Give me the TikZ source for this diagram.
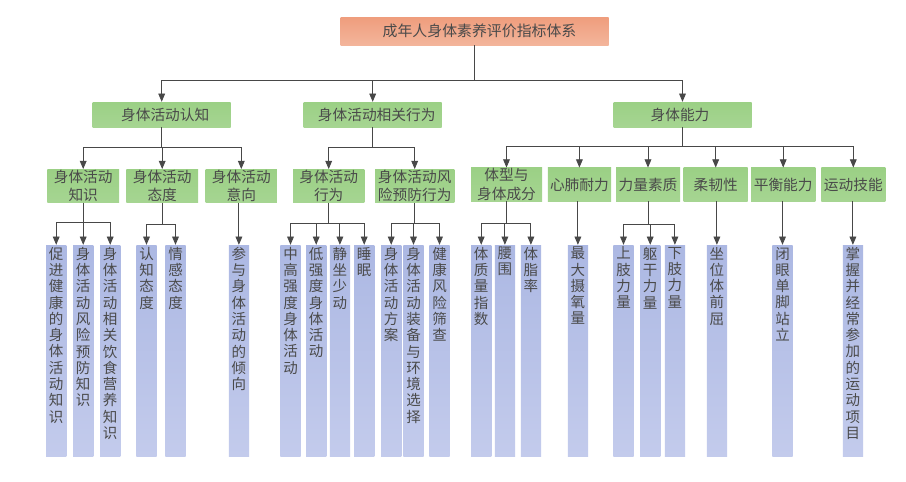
\documentclass[tikz,border=0pt]{standalone}
\usepackage{fontspec}
\setmainfont{Noto Sans CJK SC}
\XeTeXlinebreaklocale "zh"
\XeTeXlinebreakskip=0pt plus 1pt
\usepackage{tikz}
\usetikzlibrary{arrows}

\definecolor{inkgray}{HTML}{4A4A4A}
\definecolor{linegray}{HTML}{484848}
\definecolor{roottop}{HTML}{EF9D7D}
\definecolor{rootlow}{HTML}{F3B59B}
\definecolor{greentop}{HTML}{9BD085}
\definecolor{greenlow}{HTML}{A6D592}
\definecolor{bartop}{HTML}{ACB8E3}
\definecolor{barlow}{HTML}{C3CBEC}
\newcommand{\stack}[1]{\parbox[t][207pt][t]{15pt}{\centering\fontsize{14.5}{16.3}\selectfont #1}}

\begin{document}
\begin{tikzpicture}[
      x=1pt, y=-1pt,
      >=triangle 45,
      every node/.style={text=inkgray, inner sep=0pt},
      rootbox/.style={top color=roottop, bottom color=rootlow, font=\fontsize{14.9}{18}\selectfont, minimum width=268pt, minimum height=28pt},
      main node/.style={top color=greentop, bottom color=greenlow, font=\fontsize{14.7}{18}\selectfont, minimum width=138pt, minimum height=25pt},
      sub node/.style={main node, align=center, font=\fontsize{14.7}{18.5}\selectfont, minimum height=33.5pt},
      leaf/.style={top color=bartop, bottom color=barlow, minimum width=20.3pt, inner xsep=2.5pt, inner ysep=2pt},
      link/.style={draw=linegray, line width=0.9pt},
      drop/.style={link, ->}
    ]
    \useasboundingbox (0,0) rectangle (906,482);

    % Top of the tree
    \node (root) [rootbox] at (474.5,31) {\hspace*{10pt}成年人身体素养评价指标体系};
    \node (cognition) [main node] at (161.7,114.5) {\hspace*{7pt}身体活动认知};
    \node (behaviour) [main node] at (372.7,114.5) {\hspace*{8pt}身体活动相关行为};
    \node (ability) [main node] at (682.5,114.5) {身体能力\hspace*{5pt}};

    % Second row
    \node (knowledge) [sub node, minimum width=71.7pt] at (83.2,186) {身体活动\\知识};
    \node (attitude) [sub node, minimum width=71.7pt, node distance=79pt, right of=knowledge] {身体活动\\态度};
    \node (intention) [sub node, minimum width=71.3pt, node distance=79.1pt, right of=attitude] {身体活动\\意向};
    \node (conduct) [sub node, minimum width=71.3pt, node distance=87.4pt, right of=intention] {身体活动\\行为};
    \node (prevention) [sub node, minimum width=79.3pt, node distance=86pt, right of=conduct] {身体活动风\\险预防行为};
    \node (bodyshape) [sub node, minimum width=71pt] at (506.5,184.5) {体型与\\身体成分};
    \node (cardio) [sub node, minimum width=63.3pt, node distance=72.9pt, right of=bodyshape] {心肺耐力};
    \node (strength) [sub node, minimum width=64pt, node distance=68.6pt, right of=cardio] {力量素质};
    \node (flexibility) [sub node, minimum width=64pt, node distance=67.7pt, right of=strength] {柔韧性};
    \node (balance) [sub node, minimum width=64.3pt, node distance=67.5pt, right of=flexibility] {平衡能力};
    \node (skill) [sub node, minimum width=64pt, node distance=70.1pt, right of=balance] {运动技能};

    % Bottom row, tall bars
    \node (promote) [leaf] at (56.2,350.5) {\stack{促进健康的身体活动知识}};
    \node (riskknow) [leaf, node distance=27pt, right of=promote] {\stack{身体活动风险预防知识}};
    \node (dietknow) [leaf, node distance=27pt, right of=riskknow] {\stack{身体活动相关饮食营养知识}};
    \node (cogatt) [leaf, node distance=36.3pt, right of=dietknow] {\stack{认知态度}};
    \node (emoatt) [leaf, node distance=29pt, right of=cogatt] {\stack{情感态度}};
    \node (tendency) [leaf, node distance=63.4pt, right of=emoatt] {\stack{参与身体活动的倾向}};
    \node (vigorous) [leaf, node distance=51.6pt, right of=tendency] {\stack{中高强度身体活动}};
    \node (light) [leaf, node distance=25.7pt, right of=vigorous] {\stack{低强度身体活动}};
    \node (sedentary) [leaf, node distance=23.7pt, right of=light] {\stack{静坐少动}};
    \node (sleep) [leaf, node distance=24.3pt, right of=sedentary] {\stack{睡眠}};
    \node (plan) [leaf, node distance=27pt, right of=sleep] {\stack{身体活动方案}};
    \node (gear) [leaf, node distance=22.3pt, right of=plan] {\stack{身体活动装备与环境选择}};
    \node (screening) [leaf, node distance=26pt, right of=gear] {\stack{健康风险筛查}};
    \node (bmi) [leaf, node distance=41.7pt, right of=screening] {\stack{体质量指数}};
    \node (waist) [leaf, node distance=23.7pt, right of=bmi] {\stack{腰围}};
    \node (fatrate) [leaf, node distance=26pt, right of=waist] {\stack{体脂率}};
    \node (oxygen) [leaf, node distance=47pt, right of=fatrate] {\stack{最大摄氧量}};
    \node (upper) [leaf, node distance=45.6pt, right of=oxygen] {\stack{上肢力量}};
    \node (trunk) [leaf, node distance=26.7pt, right of=upper] {\stack{躯干力量}};
    \node (lower) [leaf, node distance=24.7pt, right of=trunk] {\stack{下肢力量}};
    \node (sitreach) [leaf, node distance=42pt, right of=lower] {\stack{坐位体前屈}};
    \node (onefoot) [leaf, node distance=65.6pt, right of=sitreach] {\stack{闭眼单脚站立}};
    \node (sport) [leaf, node distance=70.4pt, right of=onefoot] {\stack{掌握并经常参加的运动项目}};

    % Branch points
    \coordinate (rootbus) at (474.5,80);
    \coordinate (cogbus) at (161.7,147.7);
    \coordinate (behbus) at (372.7,147);
    \coordinate (abibus) at (682.5,146.7);
    \coordinate (knowbus) at (83.2,222.7);
    \coordinate (attbus) at (162.2,224);
    \coordinate (conbus) at (328.7,223);
    \coordinate (prebus) at (414.7,223.7);
    \coordinate (shapebus) at (506.5,223.7);
    \coordinate (strbus) at (648,224);

    % Root to main nodes
    \draw[link] (root) -- (rootbus);
    \draw[drop] (rootbus) -| (cognition);
    \draw[drop] (rootbus) -| (behaviour);
    \draw[drop] (rootbus) -| (ability);

    % Main nodes to second row
    \draw[link] (cognition) -- (cogbus);
    \draw[drop] (cogbus) -| (knowledge);
    \draw[drop] (cogbus) -| (attitude);
    \draw[drop] (cogbus) -| (intention);
    \draw[link] (behaviour) -- (behbus);
    \draw[drop] (behbus) -| (conduct);
    \draw[drop] (behbus) -| (prevention);
    \draw[link] (ability) -- (abibus);
    \draw[drop] (abibus) -| (bodyshape);
    \draw[drop] (abibus) -| (cardio);
    \draw[drop] (abibus) -| (strength);
    \draw[drop] (abibus) -| (flexibility);
    \draw[drop] (abibus) -| (balance);
    \draw[drop] (abibus) -| (skill);

    % Second row to bars
    \draw[link] (knowledge) -- (knowbus);
    \draw[drop] (knowbus) -| (promote);
    \draw[drop] (knowbus) -| (riskknow);
    \draw[drop] (knowbus) -| (dietknow);
    \draw[link] (attitude) -- (attbus);
    \draw[drop] (attbus) -| (cogatt);
    \draw[drop] (attbus) -| (emoatt);
    \draw[drop] (tendency.north |- intention.south) -- (tendency);
    \draw[link] (conduct) -- (conbus);
    \draw[drop] (conbus) -| (vigorous);
    \draw[drop] (conbus) -| (light);
    \draw[drop] (conbus) -| (sedentary);
    \draw[drop] (conbus) -| (sleep);
    \draw[link] (prevention) -- (prebus);
    \draw[drop] (prebus) -| (plan);
    \draw[drop] (prebus) -| (gear);
    \draw[drop] (prebus) -| (screening);
    \draw[link] (bodyshape) -- (shapebus);
    \draw[drop] (shapebus) -| (bmi);
    \draw[drop] (shapebus) -| (waist);
    \draw[drop] (shapebus) -| (fatrate);
    \draw[drop] (oxygen.north |- cardio.south) -- (oxygen);
    \draw[link] (strength) -- (strbus);
    \draw[drop] (strbus) -| (upper);
    \draw[drop] (strbus) -| (trunk);
    \draw[drop] (strbus) -| (lower);
    \draw[drop] (sitreach.north |- flexibility.south) -- (sitreach);
    \draw[drop] (onefoot.north |- balance.south) -- (onefoot);
    \draw[drop] (sport.north |- skill.south) -- (sport);
  \end{tikzpicture}
\end{document}
